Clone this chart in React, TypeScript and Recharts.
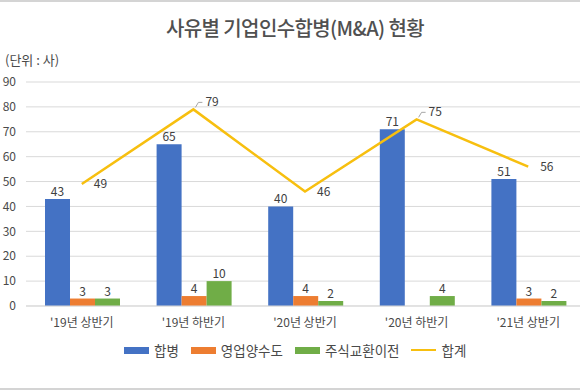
import React from 'react';
import { ComposedChart, Bar, Line, XAxis, YAxis, CartesianGrid, LabelList } from 'recharts';

const categories = ["'19년 상반기", "'19년 하반기", "'20년 상반기", "'20년 하반기", "'21년 상반기"];
const merger = [43, 65, 40, 71, 51];
const businessTransfer = [3, 4, 4, 0, 3];
const stockExchange = [3, 10, 2, 4, 2];
const total = [49, 79, 46, 75, 56];
const yTicks = [0, 10, 20, 30, 40, 50, 60, 70, 80, 90];

const seriesNames = { merger: '합병', transfer: '영업양수도', stock: '주식교환이전', total: '합계' };
const colors = { merger: '#4472C4', transfer: '#ED7D31', stock: '#70AD47', total: '#F7BF0F' };

const data = categories.map((c, i) => ({
  name: c,
  merger: merger[i],
  transfer: businessTransfer[i],
  stock: stockExchange[i],
  total: total[i],
}));

const FONT = '"Noto Sans CJK KR", "Noto Sans", sans-serif';
const TEXT = '#4a4a4a';
const LABEL = '#404040';

const TotalLabel = (props: any) => {
  const { x, y, value, index } = props;
  const prev = index > 0 ? total[index - 1] : -Infinity;
  const next = index < total.length - 1 ? total[index + 1] : -Infinity;
  const isPeak = value >= prev && value >= next && index > 0 && index < total.length - 1;
  if (isPeak) {
    return (
      <g>
        <polyline
          points={`${x + 2},${y - 2} ${x + 5},${y - 7} ${x + 9},${y - 7}`}
          fill="none"
          stroke="#a6a6a6"
          strokeWidth={1}
        />
        <text x={x + 12} y={y - 3} fontSize={12} fill={LABEL} fontFamily={FONT}>
          {value}
        </text>
      </g>
    );
  }
  return (
    <text x={x + 12} y={y + 4} fontSize={12} fill={LABEL} fontFamily={FONT}>
      {value}
    </text>
  );
};

const legendItems = [
  { key: 'merger', type: 'rect' },
  { key: 'transfer', type: 'rect' },
  { key: 'stock', type: 'rect' },
  { key: 'total', type: 'line' },
];

export default function App() {
  return (
    <div
      style={{
        position: 'absolute',
        left: 0,
        top: 0,
        width: 580,
        height: 390,
        overflow: 'hidden',
        background: '#fff',
        fontFamily: FONT,
      }}
    >
      <div style={{ position: 'absolute', left: 0, top: 0, width: 580, height: 2, background: '#d4d4d4' }} />
      <div style={{ position: 'absolute', left: 0, top: 388, width: 580, height: 2, background: '#d4d4d4' }} />
      <div
        style={{
          position: 'absolute',
          left: 5,
          top: 14,
          width: 580,
          textAlign: 'center',
          fontSize: 20,
          fontWeight: 500,
          letterSpacing: -0.6,
          color: '#505050',
          lineHeight: '28px',
        }}
      >
        사유별 기업인수합병(M&A) 현황
      </div>
      <div
        style={{
          position: 'absolute',
          left: 5,
          top: 51,
          fontSize: 13,
          color: TEXT,
          lineHeight: '18px',
        }}
      >
        (단위 : 사)
      </div>
      <div style={{ position: 'absolute', left: 0, top: 0 }}>
        <ComposedChart
          width={584}
          height={390}
          data={data}
          margin={{ top: 82, right: 0, bottom: 54, left: 0 }}
          barCategoryGap={19}
          barGap={0}
        >
          <CartesianGrid vertical={false} stroke="#d9d9d9" />
          <XAxis
            dataKey="name"
            tickLine={false}
            axisLine={{ stroke: '#d9d9d9' }}
            tick={{ fontSize: 12, fill: TEXT, fontFamily: FONT }}
            tickMargin={6}
            height={30}
            interval={0}
          />
          <YAxis
            width={26}
            domain={[0, 90]}
            ticks={yTicks}
            interval={0}
            tickLine={false}
            axisLine={false}
            tick={{ fontSize: 12, fill: TEXT, fontFamily: FONT }}
            tickMargin={4}
          />
          <Bar dataKey="merger" name={seriesNames.merger} fill={colors.merger} isAnimationActive={false}>
            <LabelList dataKey="merger" position="top" offset={3} fontSize={12} fill={LABEL} fontFamily={FONT} />
          </Bar>
          <Bar dataKey="transfer" name={seriesNames.transfer} fill={colors.transfer} isAnimationActive={false}>
            <LabelList dataKey="transfer" position="top" offset={3} fontSize={12} fill={LABEL} fontFamily={FONT} />
          </Bar>
          <Bar dataKey="stock" name={seriesNames.stock} fill={colors.stock} isAnimationActive={false}>
            <LabelList dataKey="stock" position="top" offset={3} fontSize={12} fill={LABEL} fontFamily={FONT} />
          </Bar>
          <Line
            dataKey="total"
            name={seriesNames.total}
            type="linear"
            stroke={colors.total}
            strokeWidth={2.5}
            dot={false}
            activeDot={false}
            isAnimationActive={false}
          >
            <LabelList dataKey="total" content={TotalLabel} />
          </Line>
        </ComposedChart>
      </div>
      <div
        style={{
          position: 'absolute',
          left: 124,
          top: 341,
          display: 'flex',
          alignItems: 'center',
          fontSize: 13.5,
          color: TEXT,
          lineHeight: '18px',
        }}
      >
        {legendItems.map((it) => (
          <div key={it.key} style={{ display: 'flex', alignItems: 'center', marginRight: 12 }}>
            {it.type === 'rect' ? (
              <div style={{ width: 25, height: 7, background: (colors as any)[it.key], marginRight: 5 }} />
            ) : (
              <div style={{ width: 25, height: 2.5, background: (colors as any)[it.key], marginRight: 5 }} />
            )}
            <span>{(seriesNames as any)[it.key]}</span>
          </div>
        ))}
      </div>
    </div>
  );
}
